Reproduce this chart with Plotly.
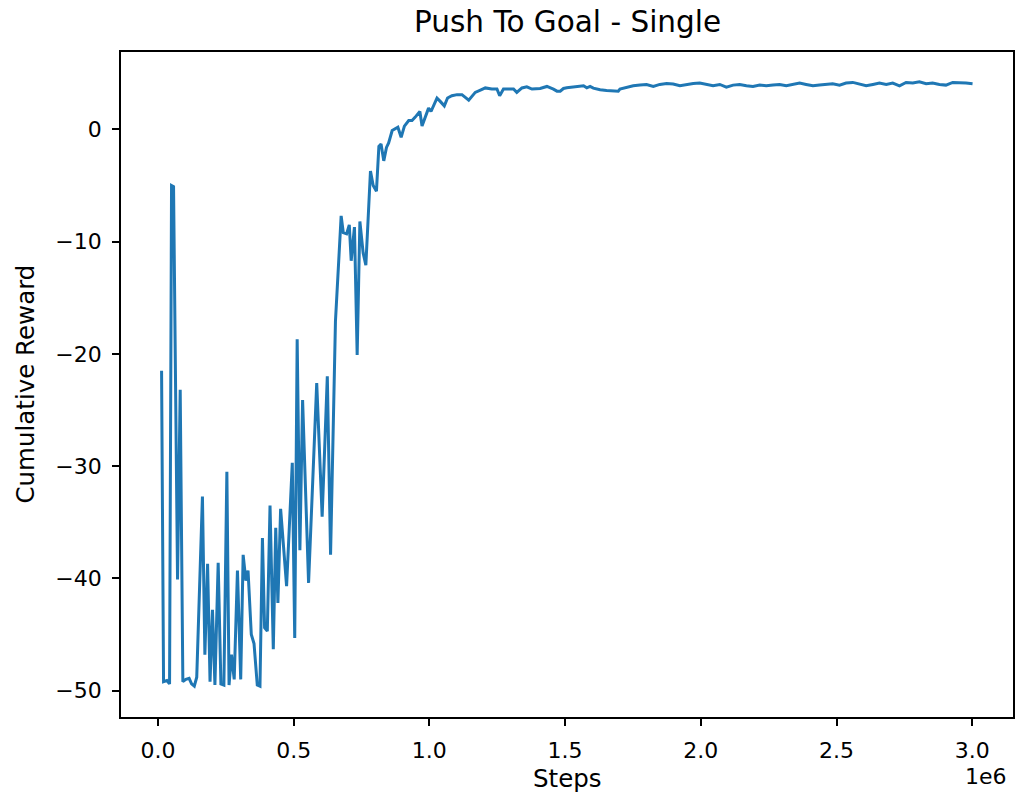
import plotly.graph_objects as go

# Steps in units of 1e6
steps = [
    0.0135, 0.0208, 0.0331, 0.0429, 0.0502, 0.0576, 0.0723, 0.0821, 0.0919, 0.103,
    0.115, 0.124, 0.134, 0.143, 0.164, 0.173, 0.183, 0.192, 0.201, 0.210,
    0.222, 0.232, 0.243, 0.254, 0.262, 0.271, 0.281, 0.293, 0.305, 0.314,
    0.324, 0.332, 0.344, 0.354, 0.366, 0.376, 0.385, 0.393, 0.403, 0.413,
    0.425, 0.434, 0.442, 0.452, 0.474, 0.495, 0.504, 0.513, 0.523, 0.533,
    0.555, 0.585, 0.605, 0.624, 0.636, 0.654, 0.675, 0.683, 0.695, 0.705,
    0.712, 0.724, 0.734, 0.744, 0.756, 0.766, 0.783, 0.793, 0.805, 0.814,
    0.822, 0.832, 0.842, 0.850, 0.863, 0.875, 0.884, 0.896, 0.908, 0.924,
    0.936, 0.948, 0.965, 0.973, 0.985, 0.997, 1.006, 1.016, 1.028, 1.040,
    1.055, 1.067, 1.083, 1.102, 1.120, 1.145, 1.169, 1.188, 1.206, 1.230,
    1.249, 1.259, 1.273, 1.292, 1.310, 1.322, 1.341, 1.359, 1.378, 1.408,
    1.433, 1.457, 1.470, 1.482, 1.494, 1.506, 1.531, 1.555, 1.568, 1.580,
    1.592, 1.604, 1.629, 1.653, 1.678, 1.696, 1.702, 1.727, 1.751, 1.776,
    1.800, 1.825, 1.849, 1.874, 1.898, 1.923, 1.947, 1.972, 1.996, 2.021,
    2.045, 2.070, 2.094, 2.119, 2.143, 2.168, 2.192, 2.217, 2.241, 2.266,
    2.290, 2.315, 2.339, 2.364, 2.388, 2.413, 2.437, 2.462, 2.486, 2.511,
    2.535, 2.560, 2.585, 2.609, 2.634, 2.658, 2.683, 2.707, 2.732, 2.756,
    2.781, 2.805, 2.830, 2.854, 2.879, 2.903, 2.928, 2.952, 2.977, 3.001,
]

reward = [
    -21.5, -49.2, -49.1, -49.4, -5.0, -5.1, -40.1, -23.2, -49.2, -49.0,
    -48.9, -49.4, -49.6, -48.8, -32.7, -46.8, -38.7, -49.2, -42.8, -49.5,
    -38.6, -49.4, -49.5, -30.5, -49.5, -46.8, -49.0, -39.3, -49.0, -37.9,
    -40.2, -39.3, -45.0, -45.8, -49.5, -49.6, -36.4, -44.4, -44.7, -33.5,
    -46.3, -35.5, -42.2, -33.8, -40.7, -29.7, -45.3, -18.7, -37.5, -24.1,
    -40.4, -22.6, -34.5, -22.0, -37.9, -17.1, -7.7, -9.2, -9.3, -8.5,
    -11.7, -8.7, -20.1, -8.2, -11.0, -12.1, -3.7, -5.0, -5.5, -1.5,
    -1.3, -2.8, -1.6, -1.2, -0.1, 0.1, 0.2, -0.7, 0.3, 0.8,
    0.8, 1.1, 1.6, 0.3, 1.1, 1.9, 1.6, 2.1, 2.8, 2.5,
    2.1, 2.8, 3.0, 3.1, 3.1, 2.6, 3.3, 3.5, 3.7, 3.6,
    3.6, 3.0, 3.6, 3.6, 3.6, 3.3, 3.7, 3.8, 3.6, 3.65,
    3.83, 3.59, 3.41, 3.41, 3.65, 3.71, 3.80, 3.83, 3.89, 3.71,
    3.83, 3.68, 3.53, 3.47, 3.47, 3.41, 3.59, 3.77, 3.89, 3.95,
    4.01, 3.83, 4.01, 4.10, 4.04, 3.89, 4.01, 4.10, 4.13, 4.01,
    3.89, 4.01, 3.77, 3.95, 4.01, 3.89, 3.83, 3.95, 3.89, 3.95,
    4.01, 3.89, 4.01, 4.13, 4.01, 3.89, 3.95, 4.01, 4.07, 3.95,
    4.13, 4.19, 4.07, 3.89, 4.01, 4.13, 4.01, 4.13, 3.89, 4.19,
    4.13, 4.24, 4.07, 4.13, 4.01, 3.95, 4.19, 4.19, 4.13, 4.07,
]

x_ticks = [0.0, 0.5, 1.0, 1.5, 2.0, 2.5, 3.0]
y_ticks = [-50, -40, -30, -20, -10, 0]

title_text = "Push To Goal - Single"
x_label = "Steps"
y_label = "Cumulative Reward"
x_offset_label = "1e6"

FONT = "DejaVu Sans"

fig = go.Figure()
fig.add_trace(go.Scatter(
    x=steps, y=reward, mode="lines",
    line=dict(color="#1f77b4", width=3),
    showlegend=False,
))

axis_common = dict(
    showline=True, linecolor="black", linewidth=1.6, mirror=True,
    ticks="outside", ticklen=7, tickwidth=1.6, tickcolor="black",
    showgrid=False, zeroline=False,
    tickfont=dict(family=FONT, size=22, color="black"),
    ticklabelstandoff=6,
)

fig.update_layout(
    width=1015, height=794,
    margin=dict(l=121, r=2, t=52, b=77, autoexpand=False),
    paper_bgcolor="white", plot_bgcolor="white",
    font=dict(family=FONT, color="black"),
    xaxis=dict(range=[-0.136, 3.150], tickvals=x_ticks,
               ticktext=[f"{v:.1f}" for v in x_ticks], **axis_common),
    yaxis=dict(range=[-52.35, 6.9], tickvals=y_ticks, **axis_common),
    annotations=[
        dict(text=title_text, x=0.5, y=1.045, xref="paper", yref="paper",
             xanchor="center", yanchor="middle", showarrow=False,
             font=dict(family=FONT, size=29.5, color="black")),
        dict(text=x_label, x=0.5, y=-0.0925, xref="paper", yref="paper",
             xanchor="center", yanchor="middle", showarrow=False,
             font=dict(family=FONT, size=24.5, color="black")),
        dict(text=y_label, x=-0.1076, y=0.5, xref="paper", yref="paper",
             xanchor="center", yanchor="middle", showarrow=False, textangle=-90,
             font=dict(family=FONT, size=24.5, color="black")),
        dict(text=x_offset_label, x=0.996, y=-0.0895, xref="paper", yref="paper",
             xanchor="right", yanchor="middle", showarrow=False,
             font=dict(family=FONT, size=22, color="black")),
    ],
)

fig.write_html("out.html", config={"displayModeBar": False},
               post_script="document.body.style.margin='0px';")
